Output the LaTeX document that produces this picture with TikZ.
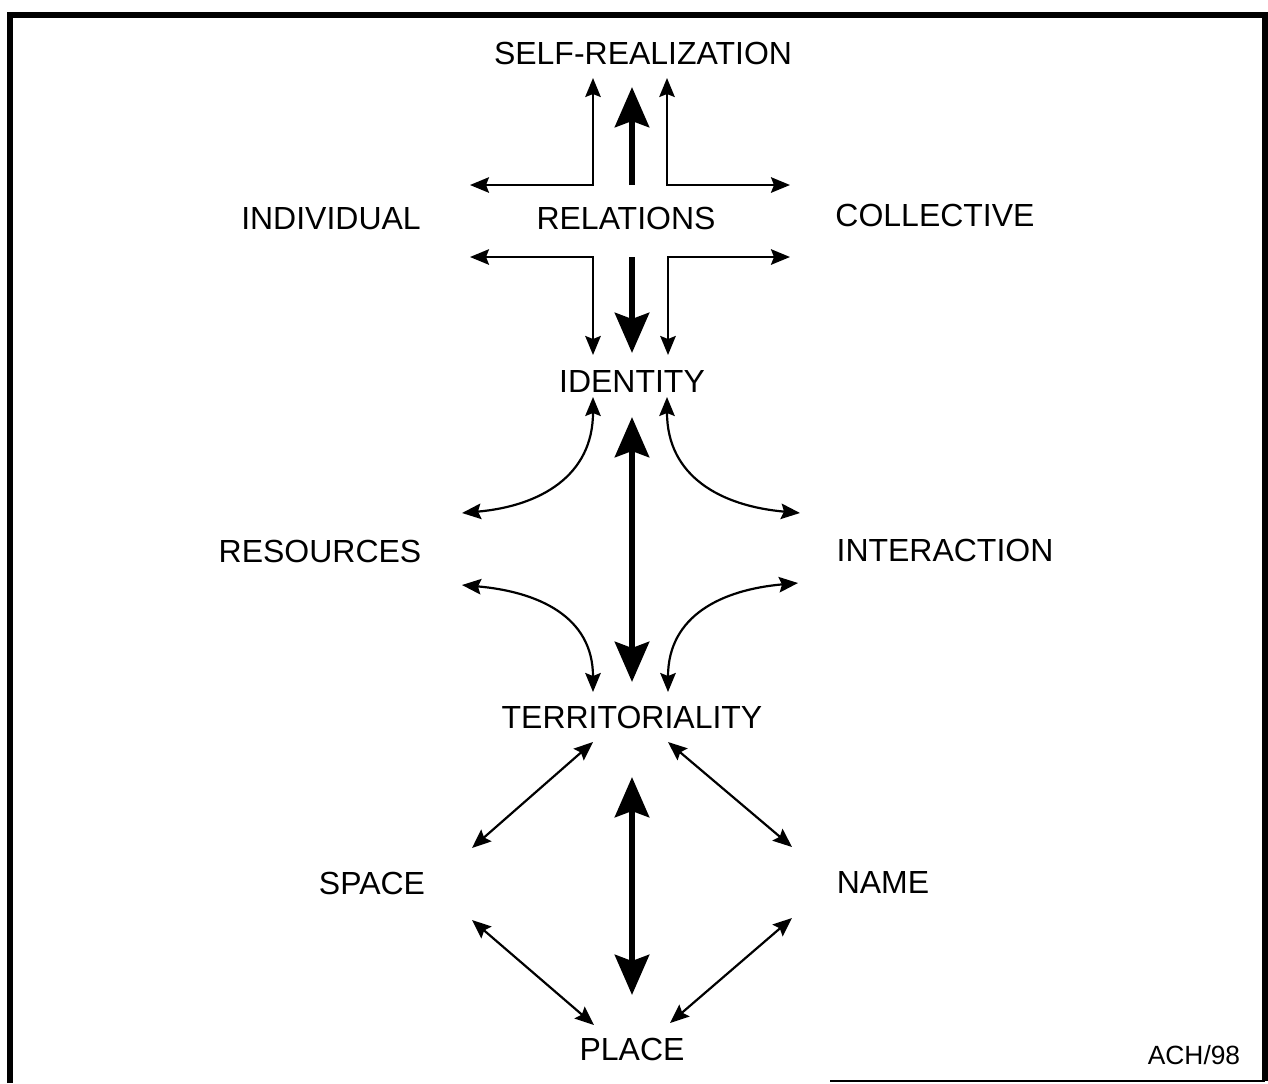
\documentclass[tikz,border=0pt]{standalone}
\usepackage{fontspec}
\setmainfont{Liberation Sans}
\usetikzlibrary{arrows.meta, calc}

\begin{document}
\begin{tikzpicture}[
        x=0.02cm, y=-0.02cm,
        term/.style={font=\fontsize{18.2}{20}\selectfont, inner sep=0pt},
        link/.style={line width=1.25pt, arrows={Stealth[length=3.8mm,width=3.1mm,inset=0.6mm]-Stealth[length=3.8mm,width=3.1mm,inset=0.6mm]}},
        spine/.style={line width=3.8pt, arrows={-Stealth[length=8mm,width=6.8mm,inset=1.2mm]}},
        spinepair/.style={line width=3.8pt, arrows={Stealth[length=8mm,width=6.8mm,inset=1.2mm]-Stealth[length=8mm,width=6.8mm,inset=1.2mm]}}
    ]
    \useasboundingbox (0,0) rectangle (1268,1083);

    % Frame
    \draw[line width=3.4pt] (10,1083) -- (10,15) -- (1265,15) -- (1265,1081);
    \draw[line width=0.6pt] (830,1081) -- (1265,1081);

    % Terms
    \node[term] (self)  at (643,53)  {SELF-REALIZATION};
    \node[term] (indiv) at (331,219) {INDIVIDUAL};
    \node[term] (rel)   at (626,218) {RELATIONS};
    \node[term] (coll)  at (935,215) {COLLECTIVE};
    \node[term] (ident) at (632,381) {IDENTITY};
    \node[term] (res)   at (320,551) {RESOURCES};
    \node[term] (inter) at (945,550) {INTERACTION};
    \node[term] (terr)  at (632,717) {TERRITORIALITY};
    \node[term] (space) at (372,883) {SPACE};
    \node[term] (name)  at (883,882) {NAME};
    \node[term] (place) at (632,1049) {PLACE};
    \node[font=\fontsize{15}{17}\selectfont, inner sep=0pt] (sign) at (1194,1055) {ACH/98};

    % Relations cross
    \draw[link] ($(self)+(-50,25)$) |- ($(indiv)+(139,-34)$);
    \draw[link] ($(self)+(24,25)$) |- ($(coll)+(-145,-30)$);
    \draw[spine] ($(rel)+(6,-33)$) -- ($(self)+(-11,34)$);
    \draw[link] ($(indiv)+(139,38)$) -| ($(ident)+(-39,-26)$);
    \draw[link] ($(coll)+(-145,42)$) -| ($(ident)+(36,-26)$);
    \draw[spine] ($(rel)+(6,39)$) -- ($(ident)+(0,-28)$);

    % Identity and territoriality
    \draw[spinepair] ($(ident)+(0,36)$) -- ($(terr)+(0,-35)$);
    \draw[link] ($(ident)+(-39,16)$) to[out=-90, in=5, looseness=1.15] ($(res)+(142,-38)$);
    \draw[link] ($(ident)+(35,16)$) to[out=-90, in=175, looseness=1.15] ($(inter)+(-145,-37)$);
    \draw[link] ($(res)+(142,34)$) to[out=-5, in=90, looseness=1.15] ($(terr)+(-39,-25)$);
    \draw[link] ($(inter)+(-147,33)$) to[out=185, in=90, looseness=1.15] ($(terr)+(36,-25)$);

    % Territoriality and place
    \draw[spinepair] ($(terr)+(0,60)$) -- ($(place)+(0,-54)$);
    \draw[link] ($(terr)+(-39,25)$) -- ($(space)+(100,-35)$);
    \draw[link] ($(terr)+(36,25)$) -- ($(name)+(-91,-35)$);
    \draw[link] ($(space)+(100,37)$) -- ($(place)+(-38,-24)$);
    \draw[link] ($(name)+(-91,36)$) -- ($(place)+(38,-26)$);

\end{tikzpicture}
\end{document}
